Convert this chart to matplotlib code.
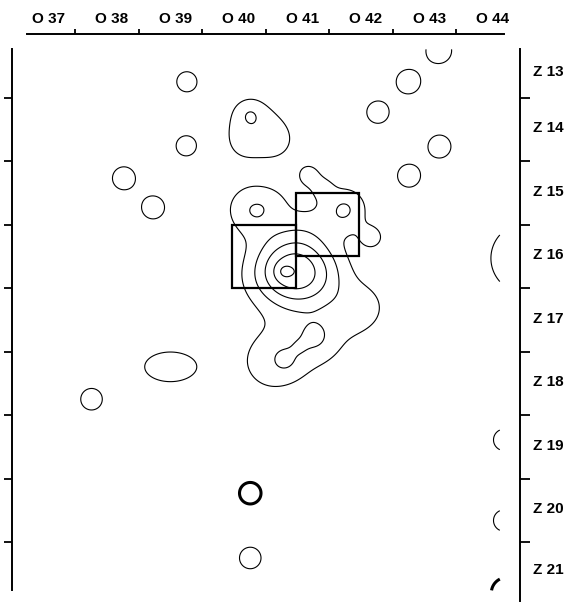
import numpy as np
import matplotlib
matplotlib.use("Agg")
import matplotlib.pyplot as plt
from matplotlib.patches import Rectangle
from matplotlib.ticker import FixedLocator, FixedFormatter, NullFormatter

plt.rcParams["font.family"] = ["Liberation Sans", "DejaVu Sans"]

# grid labels: columns O 37..O 44 (1 m each), rows Z 13..Z 21
col_labels = ["O 37", "O 38", "O 39", "O 40", "O 41", "O 42", "O 43", "O 44"]
row_labels = ["Z 13", "Z 14", "Z 15", "Z 16", "Z 17", "Z 18", "Z 19", "Z 20", "Z 21"]

# find concentrations (metres from the grid corner):
# centre, height and spread of each peak
peak_x = [2.76, 2.75, 1.77, 2.23, 6.25, 5.77, 6.74, 6.26, 6.73, 1.26, 2.50, 3.76,
          8.10, 7.76, 7.76,
          3.76, 4.15, 3.65, 3.76,
          3.79, 4.15,
          5.25, 5.68, 4.68, 4.90, 4.60,
          4.33, 4.80, 4.28, 3.80,
          4.10, 4.95, 5.55, 4.77, 4.31, 4.53]
peak_y = [0.75, 1.76, 2.27, 2.73, 0.75, 1.23, 1.77, 2.23, 0.26, 5.75, 5.24, 8.25,
          3.53, 6.39, 7.66,
          1.30, 1.68, 1.75, 1.29,
          2.76, 2.62,
          2.76, 3.20, 2.22, 2.42, 3.00,
          3.72, 3.78, 3.74, 3.90,
          5.15, 4.80, 4.30, 4.76, 5.13, 4.93]
peak_h = [1.75, 1.75, 1.75, 1.75, 1.75, 1.75, 1.75, 1.75, 1.75, 1.75, 1.75, 1.75,
          1.75, 1.75, 1.75,
          1.30, 1.25, 0.80, 0.80,
          1.88, 0.45,
          2.03, 1.35, 1.50, 1.10, 0.70,
          3.60, 2.00, 0.70, 0.25,
          1.40, 1.00, 1.20, 1.00, 0.80, 0.45]
peak_sx = [0.148, 0.148, 0.17, 0.17, 0.18, 0.165, 0.17, 0.17, 0.19, 0.16, 0.38, 0.16,
           0.52, 0.16, 0.16,
           0.36, 0.25, 0.22, 0.09,
           0.30, 0.20,
           0.26, 0.15, 0.14, 0.13, 0.30,
           0.40, 0.40, 0.09, 0.30,
           0.45, 0.45, 0.30, 0.17, 0.15, 0.10]
peak_sy = [0.148, 0.148, 0.17, 0.17, 0.18, 0.165, 0.17, 0.17, 0.19, 0.16, 0.22, 0.16,
           0.52, 0.16, 0.16,
           0.36, 0.25, 0.22, 0.09,
           0.30, 0.20,
           0.26, 0.15, 0.14, 0.13, 0.30,
           0.40, 0.40, 0.09, 0.30,
           0.45, 0.45, 0.30, 0.17, 0.15, 0.10]

# second material, drawn with a heavy line
heavy_x = [3.76, 7.80]
heavy_y = [7.23, 8.80]
heavy_h = [1.75, 1.75]
heavy_s = [0.16, 0.23]

levels = [1, 2, 3, 4, 5]

# excavated squares (left / top corner, 1 m side)
square_x = [3.48, 4.48]
square_y = [3.0, 2.5]


def surface(gx, gy, px, py, ph, sx, sy):
    X, Y = np.meshgrid(gx, gy)
    Z = np.zeros_like(X)
    for x0, y0, h, a, b in zip(px, py, ph, sx, sy):
        Z += h * np.exp(-((X - x0) ** 2 / (2 * a * a) + (Y - y0) ** 2 / (2 * b * b)))
    return X, Y, Z


W, H = 571, 603
fig = plt.figure(figsize=(W / 100, H / 100), dpi=100)
ax = fig.add_axes([11.5 / W, 0, 508 / W, 1 - 34.1 / H])
ax.set_xlim(0, 8)
ax.set_ylim((H - 34.1) / 63.5, 0)

gx = np.linspace(0.24, 7.69, 760)
gy = np.linspace(0.24, 8.76, 860)
X, Y, Z = surface(gx, gy, peak_x, peak_y, peak_h, peak_sx, peak_sy)
ax.contour(X, Y, Z, levels=levels, colors="black", linewidths=0.8)

X2, Y2, Z2 = surface(gx, gy, heavy_x, heavy_y, heavy_h, heavy_s, heavy_s)
ax.contour(X2, Y2, Z2, levels=[1], colors="black", linewidths=2.2)

for sx0, sy0 in zip(square_x, square_y):
    ax.add_patch(Rectangle((sx0, sy0), 1, 1, fill=False, edgecolor="black", lw=1.6))

# frame: ruler on top, scales left and right
for side in ["top", "left", "right", "bottom"]:
    ax.spines[side].set_linewidth(1.4)
ax.spines["bottom"].set_visible(False)
ax.spines["right"].set_visible(False)
ax.spines["top"].set_bounds(0.24, 7.76)
ax.spines["left"].set_bounds(0.24, 8.75)

ax.xaxis.set_ticks_position("top")
ax.xaxis.set_major_locator(FixedLocator(range(1, 8)))
ax.xaxis.set_major_formatter(NullFormatter())
ax.xaxis.set_minor_locator(FixedLocator(np.arange(len(col_labels)) + 0.58))
ax.xaxis.set_minor_formatter(FixedFormatter(col_labels))
ax.tick_params(axis="x", which="major", direction="out", length=3.6, width=1.3)
ax.tick_params(axis="x", which="minor", length=0, pad=6, labelsize=11)

ax.yaxis.set_major_locator(FixedLocator(range(1, 9)))
ax.yaxis.set_major_formatter(NullFormatter())
ax.tick_params(axis="y", which="major", direction="out", length=5.7, width=1.3,
               left=True, right=False)

ax2 = ax.twinx()
ax2.set_ylim(ax.get_ylim())
for side in ["top", "left", "bottom"]:
    ax2.spines[side].set_visible(False)
ax2.spines["right"].set_linewidth(1.4)
ax2.spines["right"].set_bounds(0.24, 8.93)
row_edges = np.array([0.24] + list(range(1, 9)) + [8.9])
ax2.yaxis.set_major_locator(FixedLocator(range(1, 9)))
ax2.yaxis.set_major_formatter(NullFormatter())
ax2.yaxis.set_minor_locator(FixedLocator((row_edges[:-1] + row_edges[1:]) / 2 - 0.04))
ax2.yaxis.set_minor_formatter(FixedFormatter(row_labels))
ax2.tick_params(axis="y", which="major", direction="out", length=7, width=1.3)
ax2.tick_params(axis="y", which="minor", length=0, pad=10, labelsize=11)

for lab in ax.get_xminorticklabels() + ax2.get_yminorticklabels():
    lab.set_fontweight("bold")

fig.savefig("out.png", dpi=100)
